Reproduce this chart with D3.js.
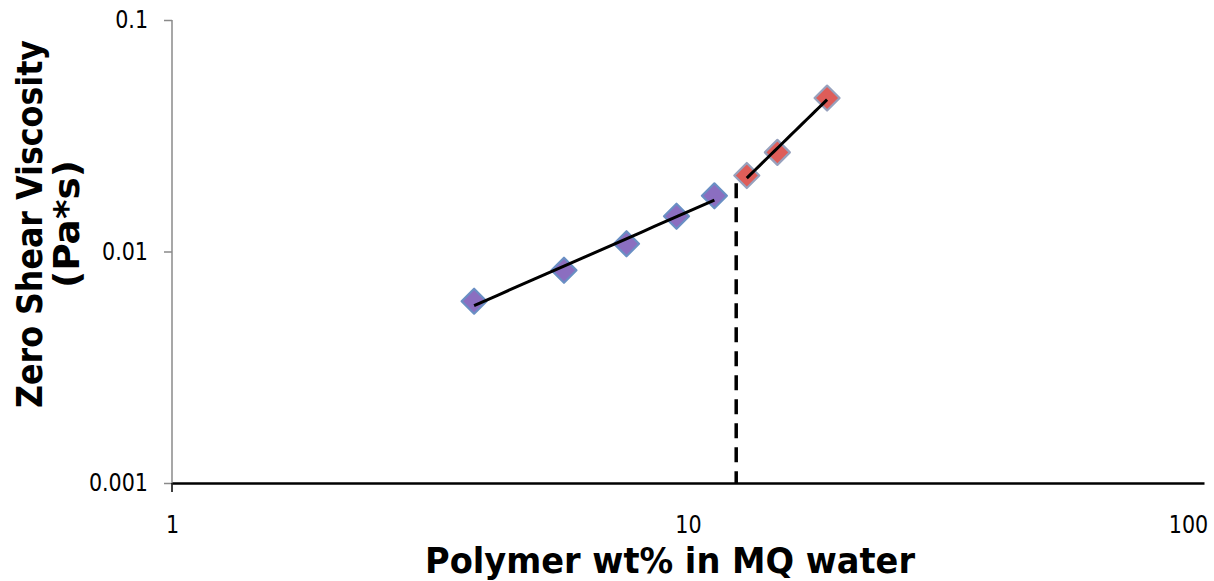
<!DOCTYPE html>
<html>
<head>
<meta charset="utf-8">
<script src="https://cdn.jsdelivr.net/npm/d3@7"></script>
<style>
  body { margin: 0; background: #fff; }
  svg { display: block; }
</style>
</head>
<body>
<svg id="chart" width="1214" height="581"></svg>
<script>
// ---- data ----
const blueX = [3.85, 5.75, 7.6, 9.5, 11.25];
const blueY = [0.0061, 0.0083, 0.0108, 0.0142, 0.0174];
const redX = [13.0, 14.9, 18.6];
const redY = [0.0213, 0.0268, 0.046];
const cStarX = 12.4;
const cStarTop = 0.0197;
const xTicks = [1, 10, 100];
const xTickLabels = ["1", "10", "100"];
const yTicks = [0.001, 0.01, 0.1];
const yTickLabels = ["0.001", "0.01", "0.1"];
const xTitle = "Polymer wt% in MQ water";
const yTitle = ["Zero Shear Viscosity", "(Pa*s)"];

const svg = d3.select("#chart");
const x = d3.scaleLog().domain([1, 100]).range([172, 1204]);
const y = d3.scaleLog().domain([0.001, 0.1]).range([483, 20]);

// power-law fit in log space
function powerFit(xs, ys) {
  const lx = xs.map(Math.log10), ly = ys.map(Math.log10);
  const n = lx.length, mx = d3.mean(lx), my = d3.mean(ly);
  let sxy = 0, sxx = 0;
  for (let i = 0; i < n; i++) { sxy += (lx[i]-mx)*(ly[i]-my); sxx += (lx[i]-mx)**2; }
  const b = sxy / sxx, a = my - b * mx;
  return v => Math.pow(10, a + b * Math.log10(v));
}

const FONT = "DejaVu Sans, Verdana, sans-serif";
function condense(sel, k) {
  sel.each(function () {
    const w = this.getComputedTextLength();
    d3.select(this).attr("textLength", w * k).attr("lengthAdjust", "spacingAndGlyphs");
  });
}

// y axis (gray)
const yAxis = d3.axisLeft(y).tickValues(yTicks).tickFormat((d, i) => yTickLabels[i]).tickSize(8).tickPadding(16);
const gy = svg.append("g").attr("transform", "translate(172,0)").call(yAxis);
gy.attr("font-size", 24).attr("font-family", FONT);
gy.select(".domain").attr("stroke", "#8a8a8a").attr("stroke-width", 1.5).attr("d", "M0,20V483");
gy.selectAll(".tick line").attr("stroke", "#8a8a8a").attr("stroke-width", 1.5);
gy.selectAll(".tick text").attr("fill", "#000").call(condense, 0.86);

// x axis (black)
const xAxis = d3.axisBottom(x).tickValues(xTicks).tickFormat((d, i) => xTickLabels[i]).tickSize(0).tickPadding(33);
const gx = svg.append("g").attr("transform", "translate(0,483)").call(xAxis);
gx.attr("font-size", 24).attr("font-family", FONT);
gx.select(".domain").attr("stroke", "#000").attr("stroke-width", 2.5);
gx.selectAll(".tick text").attr("fill", "#000").call(condense, 0.86);
gx.selectAll(".tick text").filter(d => d === 100).attr("dx", -16);
// small tick at origin
svg.append("line").attr("x1", x(1)).attr("x2", x(1)).attr("y1", 483).attr("y2", 492).attr("stroke", "#000").attr("stroke-width", 1.5);

// dashed c* line
svg.append("line")
  .attr("x1", x(cStarX)).attr("x2", x(cStarX))
  .attr("y1", y(cStarTop)).attr("y2", y(0.001))
  .attr("stroke", "#000").attr("stroke-width", 3.5).attr("stroke-dasharray", "15,9");

// markers
function diamond(cx, cy, r) { return `M${cx},${cy-r}L${cx+r},${cy}L${cx},${cy+r}L${cx-r},${cy}Z`; }
function drawSeries(xs, ys, fill, stroke) {
  svg.append("g").selectAll("path").data(xs.map((v, i) => [v, ys[i]])).join("path")
    .attr("d", d => diamond(x(d[0]), y(d[1]), 12.5))
    .attr("fill", fill).attr("stroke", stroke).attr("stroke-width", 2.2).attr("stroke-linejoin", "round");
}
drawSeries(blueX, blueY, "#8b6ec0", "#6a8fc4");
drawSeries(redX, redY, "#de5d59", "#97a1bd");

// trend lines
function drawTrend(xs, ys) {
  const f = powerFit(xs, ys);
  const x0 = d3.min(xs), x1 = d3.max(xs);
  const pts = d3.range(0, 21).map(i => x0 * Math.pow(x1 / x0, i / 20));
  svg.append("path")
    .attr("d", d3.line().x(d => x(d)).y(d => y(f(d)))(pts))
    .attr("fill", "none").attr("stroke", "#000").attr("stroke-width", 3);
}
drawTrend(blueX, blueY);
drawTrend(redX, redY);

// axis titles
svg.append("text").attr("x", 670).attr("y", 573).attr("text-anchor", "middle")
  .attr("font-family", FONT).attr("font-weight", "bold").attr("font-size", 35)
  .attr("textLength", 490).attr("lengthAdjust", "spacingAndGlyphs")
  .text(xTitle);
const yt = svg.append("text").attr("transform", "translate(42,224) rotate(-90)")
  .attr("text-anchor", "middle")
  .attr("font-family", FONT).attr("font-weight", "bold").attr("font-size", 35);
yt.append("tspan").attr("x", 0).attr("dy", 0)
  .attr("textLength", 368).attr("lengthAdjust", "spacingAndGlyphs").text(yTitle[0]);
yt.append("tspan").attr("x", 0).attr("dy", 37)
  .attr("textLength", 128).attr("lengthAdjust", "spacingAndGlyphs").text(yTitle[1]);
</script>
</body>
</html>
